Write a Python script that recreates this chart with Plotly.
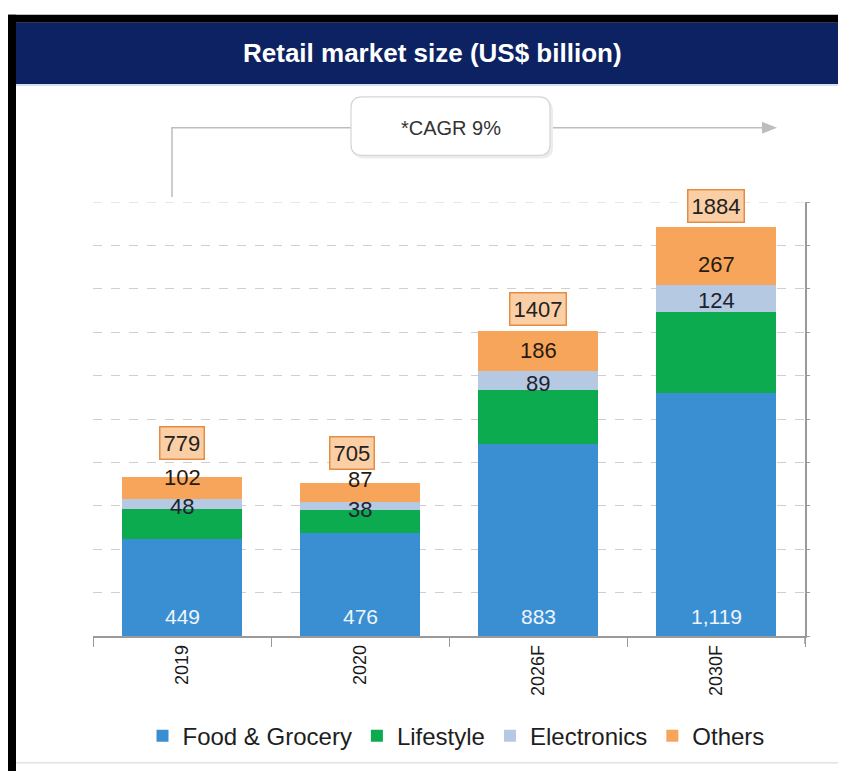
import plotly.graph_objects as go

# ---------------- data ----------------
years = ["2019", "2020", "2026F", "2030F"]
food = [449, 476, 883, 1119]
lifestyle = [135, 104, 249, 374]
electronics = [48, 38, 89, 124]
others = [102, 87, 186, 267]
totals = [779, 705, 1407, 1884]
food_labels = ["449", "476", "883", "1,119"]
series_names = ["Food & Grocery", "Lifestyle", "Electronics", "Others"]
title_text = "Retail market size (US$ billion)"
cagr_text = "*CAGR 9%"

# ---------------- style ----------------
colors = ["#3a8fd2", "#0dab4f", "#b6c9e2", "#f7a55a"]
FONT = "Arial, 'Liberation Sans', sans-serif"
OFF = 8                      # page body margin
W_FIG, H_FIG = 846 - OFF, 771 - OFF
L, R, T, B = 93, 805, 202, 640  # plot area in page pixels


def px(x):
    return (x - L) / (R - L)


def py(y):
    return (B - y) / (B - T)


fig = go.Figure()
for name, vals, col in zip(series_names, [food, lifestyle, electronics, others], colors):
    fig.add_trace(go.Bar(x=years, y=vals, name=name, marker=dict(color=col, line=dict(width=0)),
                         hoverinfo="x+y+name"))

annotations = []
# food labels at base
for i, lab in enumerate(food_labels):
    annotations.append(dict(x=i, y=0, xref="x", yref="y", text=lab, showarrow=False,
                            yanchor="middle", yshift=20,
                            font=dict(family=FONT, size=21, color="#eef4fb")))
# electronics / others labels
elec_shift = [-2, -3, -3, -2]
oth_shift = [10, 13, 0, -8]
for i in range(len(years)):
    base_e = food[i] + lifestyle[i]
    annotations.append(dict(x=i, y=base_e + electronics[i] / 2, xref="x", yref="y",
                            text=str(electronics[i]), showarrow=False, yanchor="middle",
                            yshift=elec_shift[i],
                            font=dict(family=FONT, size=22, color="#1c2330")))
    base_o = base_e + electronics[i]
    annotations.append(dict(x=i, y=base_o + others[i] / 2, xref="x", yref="y",
                            text=str(others[i]), showarrow=False, yanchor="middle",
                            yshift=oth_shift[i],
                            font=dict(family=FONT, size=22, color="#2a1a10")))
# totals in boxes
tot_shift = [34, 30, 22, 21]
tot_xshift = [0, -8, 0, 0]
for i in range(len(years)):
    top = food[i] + lifestyle[i] + electronics[i] + others[i]
    annotations.append(dict(x=i, y=top, xref="x", yref="y", text=str(totals[i]),
                            showarrow=False, yanchor="middle", yshift=tot_shift[i],
                            xshift=tot_xshift[i],
                            bgcolor="#fbcfa6", bordercolor="#e58b43", borderwidth=1.5,
                            borderpad=3,
                            font=dict(family=FONT, size=22, color="#222222")))

# title text
annotations.append(dict(x=px(432), y=py(52), xref="paper", yref="paper", text=title_text,
                        showarrow=False, xanchor="center", yanchor="middle",
                        font=dict(family=FONT, size=26, color="#ffffff", weight="bold")))
# CAGR text
annotations.append(dict(x=px(451), y=py(127), xref="paper", yref="paper", text=cagr_text,
                        showarrow=False, xanchor="center", yanchor="middle",
                        font=dict(family=FONT, size=20, color="#333333")))

shapes = []


def rect(x0, y0, x1, y1, fill):
    return dict(type="rect", xref="paper", yref="paper", x0=px(x0), x1=px(x1), y0=py(y1), y1=py(y0),
                fillcolor=fill, line=dict(width=0), layer="above")


def rounded(x0, y0, x1, y1, r):
    pts = [
        ("M", [(x0 + r, y0)]), ("L", [(x1 - r, y0)]), ("Q", [(x1, y0), (x1, y0 + r)]),
        ("L", [(x1, y1 - r)]), ("Q", [(x1, y1), (x1 - r, y1)]), ("L", [(x0 + r, y1)]),
        ("Q", [(x0, y1), (x0, y1 - r)]), ("L", [(x0, y0 + r)]), ("Q", [(x0, y0), (x0 + r, y0)]),
    ]
    s = ""
    for cmd, ps in pts:
        s += cmd + " ".join(f"{px(a):.5f},{py(b):.5f}" for a, b in ps) + " "
    return s + "Z"


# frame: black border top + left, navy title band
shapes.append(rect(8, 13, 850, 21, "#000000"))
shapes.append(rect(8, 13, 16, 780, "#000000"))
shapes.append(rect(16, 21, 850, 83, "#0c2262"))
shapes.append(dict(type="line", xref="paper", yref="paper", x0=px(16), x1=px(850), y0=py(84), y1=py(84),
                   line=dict(color="#c9d6e8", width=1.5)))
shapes.append(dict(type="line", xref="paper", yref="paper", x0=px(16), x1=px(850), y0=py(768), y1=py(768),
                   line=dict(color="#e2e2e2", width=1.5)))

# top gridline (2000) which plotly skips at the plot edge
shapes.append(dict(type="line", xref="paper", yref="y", x0=0, x1=1, y0=2000, y1=2000,
                   line=dict(color="#cfcfcf", width=1, dash="dash"), layer="below"))
# right axis line running slightly below the baseline, as in the original
shapes.append(dict(type="line", xref="paper", yref="paper", x0=1, x1=1, y0=py(648), y1=0,
                   line=dict(color="#9a9a9a", width=1.5)))

# CAGR connector
shapes.append(dict(type="path", xref="paper", yref="paper",
                   path=f"M{px(172)},{py(197)} L{px(172)},{py(127)} L{px(352)},{py(127)}",
                   line=dict(color="#bdbdbd", width=1.5)))
shapes.append(dict(type="line", xref="paper", yref="paper", x0=px(550), x1=px(764), y0=py(127), y1=py(127),
                   line=dict(color="#bdbdbd", width=1.5)))
shapes.append(dict(type="path", xref="paper", yref="paper",
                   path=f"M{px(762)},{py(121)} L{px(777)},{py(127)} L{px(762)},{py(133)} Z",
                   fillcolor="#bdbdbd", line=dict(width=0)))
# CAGR box with soft shadow
shapes.append(dict(type="path", xref="paper", yref="paper", path=rounded(353, 99, 553, 158, 11),
                   fillcolor="#ececec", line=dict(width=0)))
shapes.append(dict(type="path", xref="paper", yref="paper", path=rounded(351, 96, 550, 155, 11),
                   fillcolor="#ffffff", line=dict(color="#d6d6d6", width=1.2)))

fig.update_layout(
    barmode="stack",
    bargap=0.326,
    width=W_FIG, height=H_FIG,
    margin=dict(l=L - OFF, r=W_FIG - (R - OFF), t=T - OFF, b=H_FIG - (B - OFF), pad=0),
    paper_bgcolor="#ffffff", plot_bgcolor="#ffffff",
    font=dict(family=FONT, color="#222222"),
    showlegend=True,
    legend=dict(orientation="h", x=px(456), xanchor="center", y=py(741), yanchor="middle",
                font=dict(family=FONT, size=24, color="#1e1e1e"), itemwidth=30,
                traceorder="normal", bgcolor="rgba(0,0,0,0)"),
    annotations=annotations,
    shapes=shapes,
    xaxis=dict(type="category", showgrid=False, showline=True, linecolor="#9a9a9a", linewidth=1.5,
               ticks="outside", tickson="boundaries", ticklen=9, tickcolor="#9a9a9a",
               tickangle=-90, tickfont=dict(family=FONT, size=18, color="#1a1a1a"),
               range=[-0.5, 3.5], fixedrange=True),
    yaxis=dict(range=[0, 2000], dtick=200, side="right", showticklabels=False,
               showgrid=True, gridcolor="#cfcfcf", griddash="dash", gridwidth=1,
               showline=True, linecolor="#9a9a9a", linewidth=1.5,
               ticks="outside", ticklen=3, tickcolor="#9a9a9a",
               zeroline=False, fixedrange=True),
)

fig.write_html("out.html")
